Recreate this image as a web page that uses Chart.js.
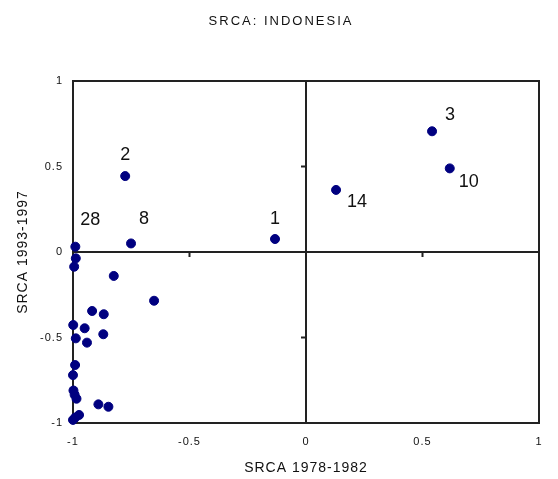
<!DOCTYPE html>
<html>
<head>
<meta charset="utf-8">
<script src="https://cdn.jsdelivr.net/npm/chart.js@4/dist/chart.umd.min.js"></script>
<style>
  html, body { margin: 0; padding: 0; background: #fff; }
  #wrap { width: 558px; height: 479px; position: relative; }
</style>
</head>
<body>
<div id="wrap"><canvas id="srca-chart"></canvas></div>
<script>
// SRCA values
const srca7882 = [-0.776, -0.751, -0.99, -0.133, 0.129, 0.541, 0.617,
  -0.988, -0.995, -0.825, -0.652, -0.918, -0.868, -0.999, -0.95, -0.988, -0.87, -0.94,
  -0.991, -1.0, -0.998, -0.993, -0.985, -0.891, -0.848, -0.974, -1.0, -0.99];
const srca9397 = [0.444, 0.05, 0.031, 0.076, 0.363, 0.706, 0.489,
  -0.037, -0.086, -0.14, -0.285, -0.345, -0.364, -0.427, -0.446, -0.505, -0.481, -0.53,
  -0.661, -0.72, -0.81, -0.835, -0.858, -0.891, -0.905, -0.953, -0.982, -0.968];
const pointNames = ["2", "8", "28", "1", "14", "3", "10"];
const axisTicks = [-1, -0.5, 0, 0.5, 1];

const points = srca7882.map((x, i) => ({ x: x, y: srca9397[i], name: pointNames[i] || "" }));

// where each number sits next to its dot (px)
const nameOffset = {
  "2": [0, -21], "8": [13, -24], "28": [15, -27], "1": [0, -20],
  "14": [21, 12], "3": [18, -16], "10": [19, 14]
};

const lineColor = "#222";

const quadrantPlugin = {
  id: "quadrants",
  beforeDraw(chart) {
    chart.ctx.letterSpacing = "1px";
  },
  beforeDatasetsDraw(chart) {
    const { ctx, chartArea: a, scales: { x, y } } = chart;
    const x0 = x.getPixelForValue(0);
    const y0 = y.getPixelForValue(0);
    ctx.save();
    ctx.strokeStyle = lineColor;
    ctx.lineWidth = 2;
    ctx.strokeRect(a.left, a.top, a.right - a.left, a.bottom - a.top);
    ctx.beginPath();
    ctx.moveTo(x0, a.top);
    ctx.lineTo(x0, a.bottom);
    ctx.moveTo(a.left, y0);
    ctx.lineTo(a.right, y0);
    // small marks on the crossing axes
    [-0.5, 0.5].forEach(v => {
      const px = x.getPixelForValue(v);
      ctx.moveTo(px, y0);
      ctx.lineTo(px, y0 + 5);
      const py = y.getPixelForValue(v);
      ctx.moveTo(x0, py);
      ctx.lineTo(x0 - 5, py);
    });
    ctx.stroke();
    ctx.restore();
  },
  afterDatasetsDraw(chart) {
    const { ctx, scales: { x, y } } = chart;
    ctx.save();
    ctx.letterSpacing = "0px";
    ctx.font = "18px 'Liberation Sans', Arial, sans-serif";
    ctx.fillStyle = "#111";
    ctx.textAlign = "center";
    ctx.textBaseline = "middle";
    points.forEach(p => {
      if (!p.name) return;
      const off = nameOffset[p.name] || [0, -20];
      ctx.fillText(p.name, x.getPixelForValue(p.x) + off[0], y.getPixelForValue(p.y) + off[1]);
    });
    // chart title
    ctx.letterSpacing = "2px";
    ctx.font = "13px 'Liberation Sans', Arial, sans-serif";
    ctx.fillText("SRCA: INDONESIA", 281, 21);
    ctx.restore();
  }
};

new Chart(document.getElementById("srca-chart"), {
  type: "scatter",
  data: {
    datasets: [{
      label: "Indonesia",
      data: points,
      backgroundColor: "#000080",
      borderColor: "#000080",
      pointRadius: 4.5,
      pointHoverRadius: 4.5,
      clip: false
    }]
  },
  options: {
    responsive: true,
    maintainAspectRatio: false,
    animation: false,
    layout: { padding: { top: 81, right: 19, left: 0, bottom: 0 } },
    scales: {
      x: {
        type: "linear",
        min: -1,
        max: 1,
        afterBuildTicks: s => { s.ticks = axisTicks.map(v => ({ value: v })); },
        afterFit: s => { s.height = 56; },
        grid: { display: false, drawTicks: false },
        border: { display: false },
        ticks: {
          padding: 12,
          color: "#111",
          font: { family: "'Liberation Sans', Arial, sans-serif", size: 11 },
          callback: v => String(v)
        },
        title: {
          display: true,
          text: "SRCA 1978-1982",
          color: "#111",
          font: { family: "'Liberation Sans', Arial, sans-serif", size: 14 },
          padding: { top: 0, bottom: 2 }
        }
      },
      y: {
        type: "linear",
        min: -1,
        max: 1,
        afterBuildTicks: s => { s.ticks = axisTicks.map(v => ({ value: v })); },
        afterFit: s => { s.width = 73; },
        grid: { display: false, drawTicks: false },
        border: { display: false },
        ticks: {
          padding: 10,
          color: "#111",
          font: { family: "'Liberation Sans', Arial, sans-serif", size: 11 },
          callback: v => String(v)
        },
        title: {
          display: true,
          text: "SRCA 1993-1997",
          color: "#111",
          font: { family: "'Liberation Sans', Arial, sans-serif", size: 14 },
          padding: { top: 15, bottom: 0 }
        }
      }
    },
    plugins: {
      legend: { display: false },
      tooltip: { enabled: false },
      title: { display: false }
    }
  },
  plugins: [quadrantPlugin]
});
</script>
</body>
</html>
